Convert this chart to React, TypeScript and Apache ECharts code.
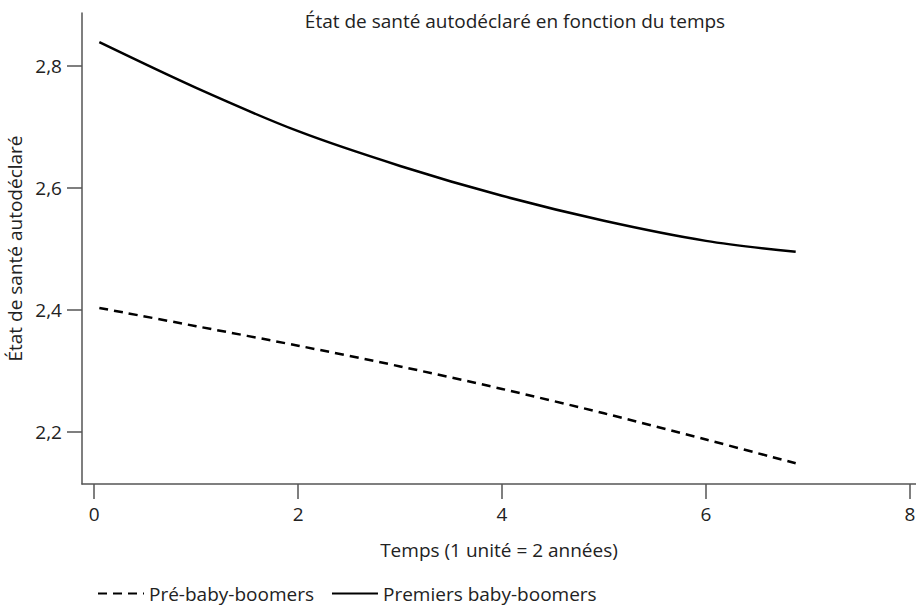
import React, { useEffect, useRef } from "react";
import * as echarts from "echarts";

const timePoints = [0.05, 1, 2, 3, 4, 5, 6, 6.88];
const preBabyBoomers = [2.403, 2.373, 2.341, 2.307, 2.27, 2.23, 2.187, 2.148];
const premiersBabyBoomers = [2.839, 2.764, 2.693, 2.636, 2.587, 2.546, 2.513, 2.495];
const xTicks = [0, 2, 4, 6, 8];
const yTicks = [2.2, 2.4, 2.6, 2.8];

const FONT = "'Open Sans', 'Noto Sans', sans-serif";
const TEXT = "#222";
const AXIS = "#555";
const FS = 19;

export default function App() {
  const ref = useRef<HTMLDivElement>(null);
  useEffect(() => {
    if (!ref.current) return;
    const chart = echarts.init(ref.current, null, { renderer: "svg" });
    const pair = (ys: number[]) => timePoints.map((t, i) => [t, ys[i]]);
    chart.setOption({
      animation: false,
      backgroundColor: "#fff",
      textStyle: { fontFamily: FONT },
      title: {
        text: "État de santé autodéclaré en fonction du temps",
        left: 510,
        textAlign: "center",
        top: 6,
        textStyle: { fontFamily: FONT, fontSize: FS, fontWeight: "normal", color: TEXT },
      },
      grid: { left: 82, right: 0, top: 13, bottom: 125, containLabel: false, outerBoundsMode: "none" },
      legend: {
        left: 92,
        top: 579,
        itemWidth: 46,
        itemHeight: 16,
        itemGap: 17,
        itemStyle: { opacity: 0 },
        textStyle: { fontFamily: FONT, fontSize: FS, color: TEXT },
        data: ["Pré-baby-boomers", "Premiers baby-boomers"],
      },
      xAxis: {
        type: "value",
        min: -0.12,
        max: 8.06,
        name: "Temps (1 unité = 2 années)",
        nameLocation: "middle",
        nameGap: 56,
        nameTextStyle: { fontFamily: FONT, fontSize: FS, color: TEXT },
        axisLine: { show: true, onZero: false, lineStyle: { color: AXIS, width: 1.5 } },
        axisTick: { show: true, length: 15, customValues: xTicks, lineStyle: { color: AXIS, width: 1.5 } },
        axisLabel: { customValues: xTicks, margin: 20, fontSize: FS, color: TEXT, fontFamily: FONT },
        splitLine: { show: false },
      },
      yAxis: {
        type: "value",
        min: 2.114,
        max: 2.887,
        name: "État de santé autodéclaré",
        nameLocation: "middle",
        nameGap: 55,
        nameTextStyle: { fontFamily: FONT, fontSize: FS, color: TEXT },
        axisLine: { show: true, onZero: false, lineStyle: { color: AXIS, width: 1.5 } },
        axisTick: { show: true, length: 15, customValues: yTicks, lineStyle: { color: AXIS, width: 1.5 } },
        axisLabel: {
          customValues: yTicks,
          margin: 20,
          fontSize: FS,
          color: TEXT,
          fontFamily: FONT,
          formatter: (v: number) => v.toFixed(1).replace(".", ","),
        },
        splitLine: { show: false },
      },
      series: [
        {
          name: "Pré-baby-boomers",
          type: "line",
          data: pair(preBabyBoomers),
          smooth: 0.3,
          symbol: "none",
          lineStyle: { color: "#000", width: 2.5, type: [9, 6] },
          itemStyle: { color: "#000" },
        },
        {
          name: "Premiers baby-boomers",
          type: "line",
          data: pair(premiersBabyBoomers),
          smooth: 0.3,
          symbol: "none",
          lineStyle: { color: "#000", width: 2.5, type: "solid" },
          itemStyle: { color: "#000" },
        },
      ],
    });
    return () => chart.dispose();
  }, []);
  return (
    <div
      ref={ref}
      style={{ position: "fixed", left: 0, top: 0, width: 916, height: 609, background: "#fff" }}
    />
  );
}
